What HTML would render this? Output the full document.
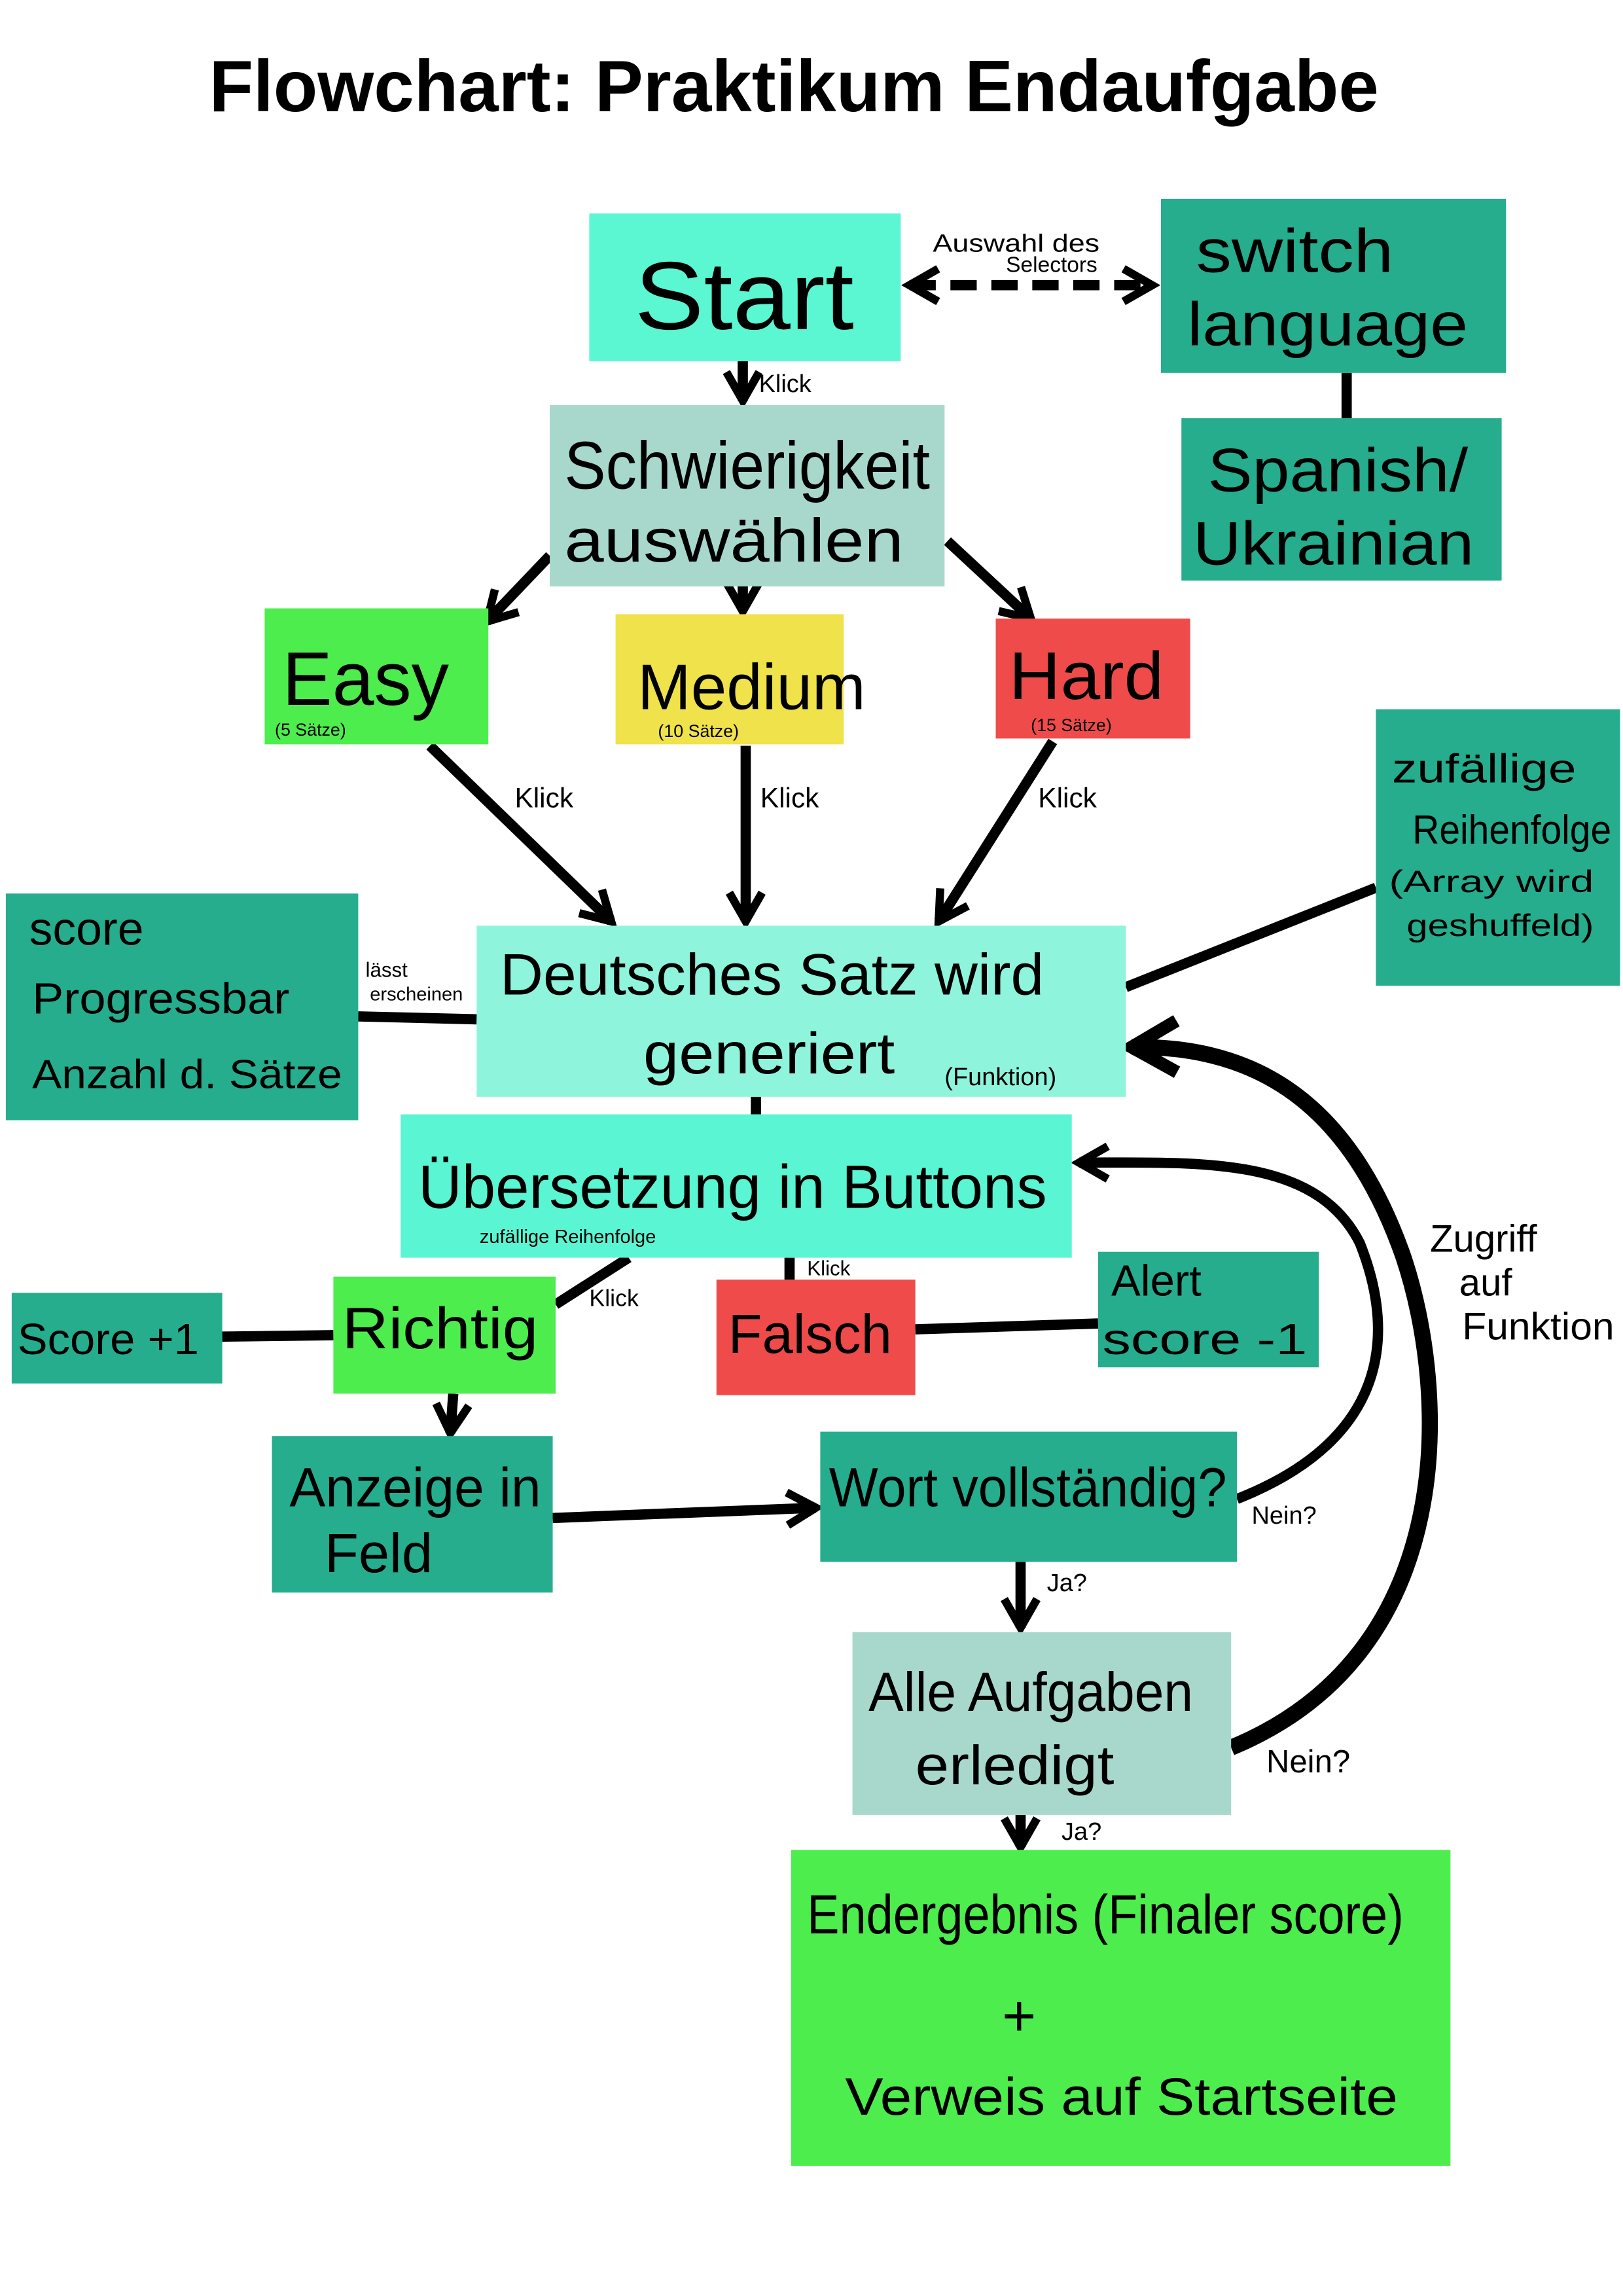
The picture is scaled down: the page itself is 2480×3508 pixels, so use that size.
<!DOCTYPE html>
<html><head><meta charset="utf-8"><style>
html,body{margin:0;padding:0;background:#fff;}
svg{display:block;}
text{font-family:"Liberation Sans","DejaVu Sans",sans-serif;fill:#000;}
</style></head><body>
<svg width="2480" height="3508" viewBox="0 0 1110 1570" preserveAspectRatio="none" xmlns="http://www.w3.org/2000/svg">
<defs>
<marker id="ah" viewBox="0 0 10 10" refX="8" refY="5" markerWidth="4" markerHeight="4" orient="auto-start-reverse">
<path d="M1,1 L8,5 L1,9" fill="none" stroke="#000" stroke-width="2"/></marker>
</defs>
<rect width="1110" height="1570" fill="#fff"/>
<text x="543" y="76" font-size="50" font-weight="bold" text-anchor="middle" textLength="800" lengthAdjust="spacingAndGlyphs">Flowchart: Praktikum Endaufgabe</text>

<g stroke="#000" stroke-width="7" fill="none">
<line x1="622" y1="195" x2="788" y2="195" stroke-dasharray="18,10" marker-start="url(#ah)" marker-end="url(#ah)"/>
<line x1="921" y1="255" x2="921" y2="286"/>
<line x1="508" y1="247" x2="508" y2="274" marker-end="url(#ah)"/>
<line x1="376" y1="380" x2="333" y2="425" marker-end="url(#ah)"/>
<line x1="508" y1="401" x2="508" y2="418" marker-end="url(#ah)"/>
<line x1="648" y1="370" x2="705" y2="423" marker-end="url(#ah)"/>
<line x1="294" y1="510" x2="418" y2="630" marker-end="url(#ah)"/>
<line x1="510" y1="510" x2="510" y2="630" marker-end="url(#ah)"/>
<line x1="720" y1="507" x2="642" y2="630" marker-end="url(#ah)"/>
<line x1="770" y1="675" x2="941" y2="607"/>
<line x1="245" y1="695" x2="326" y2="697"/>
<line x1="517" y1="750" x2="517" y2="762"/>
<line x1="380" y1="892" x2="430" y2="860"/>
<line x1="540" y1="860" x2="540" y2="875"/>
<line x1="152" y1="914" x2="228" y2="913"/>
<line x1="626" y1="909" x2="751" y2="905"/>
<line x1="310" y1="953" x2="308" y2="980" marker-end="url(#ah)"/>
<line x1="378" y1="1038" x2="558" y2="1031" marker-end="url(#ah)"/>
<line x1="698" y1="1068" x2="698" y2="1113" marker-end="url(#ah)"/>
<line x1="698" y1="1241" x2="698" y2="1263" marker-end="url(#ah)"/>
<path d="M846,1025 C960,980 950,900 930,850 C900,790 820,795 738,795" marker-end="url(#ah)"/>
<path d="M842,1195 C1000,1130 990,950 960,860 C920,745 850,715 774,716" stroke-width="11" marker-end="url(#ah)"/>
</g>

<rect x="403" y="146" width="213" height="101" fill="#5af7d2"/>
<rect x="794" y="136" width="236" height="119" fill="#25ad8e"/>
<rect x="808" y="286" width="219" height="111" fill="#25ad8e"/>
<rect x="376" y="277" width="270" height="124" fill="#a8d8cc"/>
<rect x="181" y="416" width="153" height="93" fill="#4eed4e"/>
<rect x="421" y="420" width="156" height="89" fill="#f0e24a"/>
<rect x="681" y="423" width="133" height="82" fill="#ef4b4b"/>
<rect x="326" y="633" width="444" height="117" fill="#8ef5dc"/>
<rect x="941" y="485" width="167" height="189" fill="#25ad8e"/>
<rect x="4" y="611" width="241" height="155" fill="#25ad8e"/>
<rect x="274" y="762" width="459" height="98" fill="#5af5d2"/>
<rect x="228" y="873" width="152" height="80" fill="#4eed4e"/>
<rect x="490" y="875" width="136" height="79" fill="#ef4b4b"/>
<rect x="8" y="884" width="144" height="62" fill="#25ad8e"/>
<rect x="751" y="856" width="151" height="79" fill="#25ad8e"/>
<rect x="186" y="982" width="192" height="107" fill="#25ad8e"/>
<rect x="561" y="979" width="285" height="89" fill="#25ad8e"/>
<rect x="583" y="1116" width="259" height="125" fill="#a8d8cc"/>
<rect x="541" y="1265" width="451" height="216" fill="#4eed4e"/>

<text x="509" y="225" font-size="66" text-anchor="middle" textLength="150" lengthAdjust="spacingAndGlyphs">Start</text>
<text x="818" y="186" font-size="42" textLength="135" lengthAdjust="spacingAndGlyphs">switch</text>
<text x="812" y="236" font-size="42" textLength="192" lengthAdjust="spacingAndGlyphs">language</text>
<text x="826" y="336" font-size="42" textLength="178" lengthAdjust="spacingAndGlyphs">Spanish/</text>
<text x="816" y="386" font-size="42" textLength="192" lengthAdjust="spacingAndGlyphs">Ukrainian</text>
<text x="386" y="334" font-size="46" textLength="250" lengthAdjust="spacingAndGlyphs">Schwierigkeit</text>
<text x="386" y="384" font-size="42" textLength="232" lengthAdjust="spacingAndGlyphs">auswählen</text>
<text x="193" y="482" font-size="52" textLength="114" lengthAdjust="spacingAndGlyphs">Easy</text>
<text x="188" y="503" font-size="12">(5 Sätze)</text>
<text x="436" y="485" font-size="44" textLength="156" lengthAdjust="spacingAndGlyphs">Medium</text>
<text x="450" y="504" font-size="12">(10 Sätze)</text>
<text x="690" y="478" font-size="46" textLength="106" lengthAdjust="spacingAndGlyphs">Hard</text>
<text x="705" y="500" font-size="12">(15 Sätze)</text>
<text x="342" y="680" font-size="40" textLength="372" lengthAdjust="spacingAndGlyphs">Deutsches  Satz  wird</text>
<text x="440" y="734" font-size="40" textLength="172" lengthAdjust="spacingAndGlyphs">generiert</text>
<text x="646" y="742" font-size="17">(Funktion)</text>
<text x="952" y="535" font-size="28" textLength="126" lengthAdjust="spacingAndGlyphs">zufällige</text>
<text x="966" y="577" font-size="28" textLength="136" lengthAdjust="spacingAndGlyphs">Reihenfolge</text>
<text x="950" y="610" font-size="21" textLength="140" lengthAdjust="spacingAndGlyphs">(Array  wird</text>
<text x="962" y="640" font-size="21" textLength="128" lengthAdjust="spacingAndGlyphs">geshuffeld)</text>
<text x="20" y="646" font-size="32">score</text>
<text x="22" y="693" font-size="30" textLength="176" lengthAdjust="spacingAndGlyphs">Progressbar</text>
<text x="22" y="744" font-size="28" textLength="212" lengthAdjust="spacingAndGlyphs">Anzahl d. Sätze</text>
<text x="286" y="826" font-size="42" textLength="430" lengthAdjust="spacingAndGlyphs">Übersetzung  in  Buttons</text>
<text x="328" y="850" font-size="13">zufällige Reihenfolge</text>
<text x="234" y="922" font-size="40" textLength="134" lengthAdjust="spacingAndGlyphs">Richtig</text>
<text x="498" y="925" font-size="38" textLength="112" lengthAdjust="spacingAndGlyphs">Falsch</text>
<text x="12" y="926" font-size="30" textLength="124" lengthAdjust="spacingAndGlyphs">Score +1</text>
<text x="760" y="886" font-size="30">Alert</text>
<text x="754" y="926" font-size="30" textLength="140" lengthAdjust="spacingAndGlyphs">score -1</text>
<text x="198" y="1030" font-size="38" textLength="172" lengthAdjust="spacingAndGlyphs">Anzeige  in</text>
<text x="222" y="1075" font-size="38">Feld</text>
<text x="567" y="1030" font-size="38" textLength="272" lengthAdjust="spacingAndGlyphs">Wort  vollständig?</text>
<text x="594" y="1170" font-size="38" textLength="222" lengthAdjust="spacingAndGlyphs">Alle  Aufgaben</text>
<text x="626" y="1220" font-size="38" textLength="136" lengthAdjust="spacingAndGlyphs">erledigt</text>
<text x="552" y="1322" font-size="38" textLength="408" lengthAdjust="spacingAndGlyphs">Endergebnis (Finaler  score)</text>
<text x="697" y="1392" font-size="40" text-anchor="middle">+</text>
<text x="578" y="1446" font-size="36" textLength="378" lengthAdjust="spacingAndGlyphs">Verweis   auf   Startseite</text>

<text x="638" y="172" font-size="17" textLength="114" lengthAdjust="spacingAndGlyphs">Auswahl  des</text>
<text x="688" y="186" font-size="15">Selectors</text>
<text x="519" y="268" font-size="17">Klick</text>
<text x="352" y="552" font-size="19">Klick</text>
<text x="520" y="552" font-size="19">Klick</text>
<text x="710" y="552" font-size="19">Klick</text>
<text x="250" y="668" font-size="14">lässt</text>
<text x="253" y="684" font-size="13">erscheinen</text>
<text x="403" y="893" font-size="16">Klick</text>
<text x="552" y="872" font-size="14">Klick</text>
<text x="856" y="1042" font-size="17">Nein?</text>
<text x="716" y="1088" font-size="17">Ja?</text>
<text x="726" y="1258" font-size="17">Ja?</text>
<text x="866" y="1212" font-size="22">Nein?</text>
<text x="978" y="856" font-size="26">Zugriff</text>
<text x="998" y="886" font-size="26">auf</text>
<text x="1000" y="916" font-size="26" textLength="104" lengthAdjust="spacingAndGlyphs">Funktion</text>
</svg>
</body></html>
